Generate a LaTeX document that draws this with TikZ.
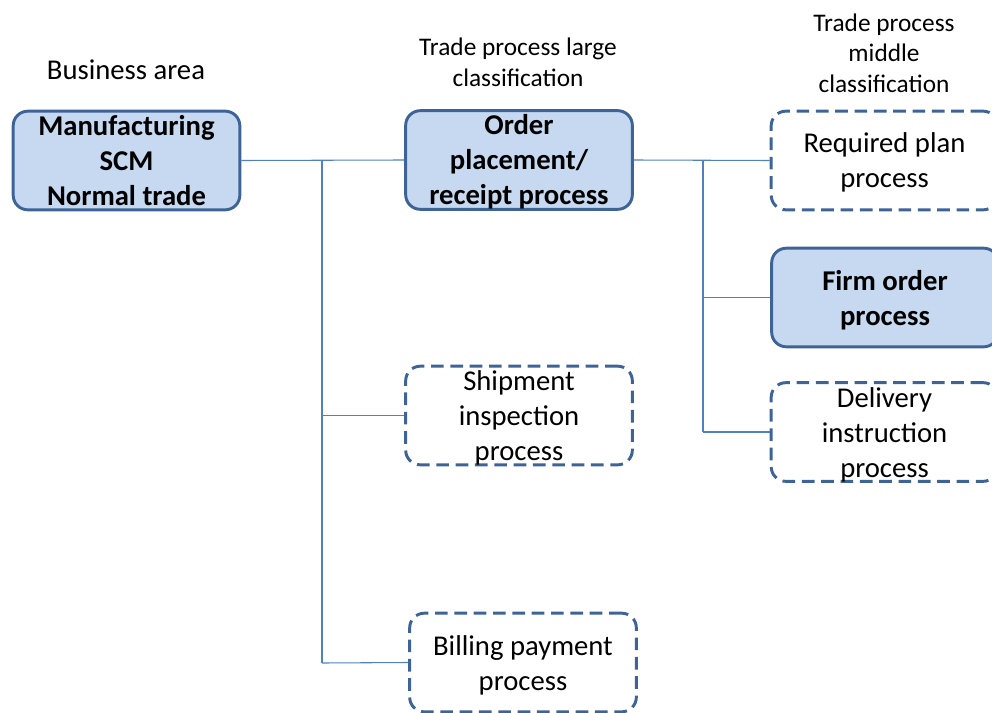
\documentclass[tikz,border=0pt]{standalone}
\usepackage{fontspec}
\setmainfont{Carlito}
\definecolor{boxfill}{HTML}{C6D9F1}
\definecolor{boxline}{HTML}{3E6396}
\definecolor{conn}{HTML}{4F81BD}
\newcommand\lowtext[1]{\raisebox{-2.25pt}[\dimexpr\height-4pt\relax][\dimexpr\depth-4pt\relax]{\begin{tabular}{@{}c@{}}#1\end{tabular}}}
\tikzset{
  px/.style={x=0.75pt,y=-0.75pt},
  basebox/.style={rounded corners=11pt, line width=2.2pt, draw=boxline, align=center,
    minimum width=170pt, minimum height=74pt, inner sep=0pt,
    font=\fontsize{21.5pt}{26.25pt}\selectfont},
  solidbox/.style={basebox, fill=boxfill, font=\fontsize{21.5pt}{26.25pt}\selectfont\bfseries},
  dashbox/.style={basebox, dash pattern=on 9.5pt off 5pt},
  lbl/.style={align=center, inner sep=0pt, font=\fontsize{19pt}{23pt}\selectfont},
  conline/.style={draw=conn, line width=0.8pt}
}
\begin{document}
\begin{tikzpicture}[px]
\useasboundingbox (0,0) rectangle (992,713);
\clip (0,0) rectangle (992,713);
% labels
\node[lbl, font=\fontsize{21.5pt}{25pt}\selectfont] (lba) at (126,70) {Business area};
\node[lbl] (lbl2) at (518,62) {Trade process large\\classification};
\node[lbl] (lbl3) at (884,53) {Trade process\\middle\\classification};
% boxes
\node[solidbox] (mfg) at (126.5,160.5) {\lowtext{Manufacturing\\SCM\\Normal trade}};
\node[solidbox] (ord) at (519,160) {\lowtext{Order\\placement/\\receipt process}};
\node[dashbox] (req) at (884.5,160.5) {\lowtext{Required plan\\process}};
\node[solidbox] (firm) at (885,297.5) {\lowtext{Firm order\\process}};
\node[dashbox] (del) at (884.5,432) {\lowtext{Delivery\\instruction\\process}};
\node[dashbox] (ship) at (519,415.5) {\lowtext{Shipment\\inspection\\process}};
\node[dashbox] (bill) at (523,662.5) {\lowtext{Billing payment\\process}};
% junctions
\coordinate (j1) at (322,160);
\coordinate (j1b) at (322,663);
\coordinate (j2) at (703,160);
\coordinate (j2b) at (703,432);
% connectors
\draw[conline] (mfg.east) -- (ord.west);
\draw[conline] (j1) -- (j1b);
\draw[conline] (j1 |- ship.west) -- (ship.west);
\draw[conline] (j1b) -- (bill.west);
\draw[conline] (ord.east) -- (req.west);
\draw[conline] (j2) -- (j2b);
\draw[conline] (j2 |- firm.west) -- (firm.west);
\draw[conline] (j2b) -- (del.west);
\end{tikzpicture}
\end{document}
